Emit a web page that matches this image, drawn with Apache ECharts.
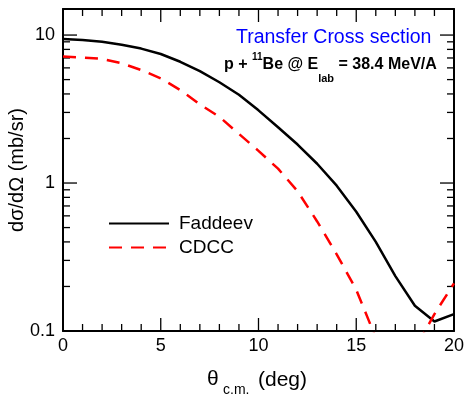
<!DOCTYPE html>
<html><head><meta charset="utf-8">
<script src="https://cdn.jsdelivr.net/npm/echarts@6/dist/echarts.min.js"></script>
<style>html,body{margin:0;padding:0;background:#fff}#c{width:467px;height:394px}</style>
</head><body><div id="c"></div>
<script>
// ---- data ----
const theta = [0,1,2,3,4,5,6,7,8,9,10,11,12,13,14,15,16,17,18,19,20];
const faddeev = [9.4,9.25,9.0,8.6,8.1,7.45,6.6,5.7,4.8,3.95,3.1,2.38,1.82,1.35,0.96,0.64,0.40,0.235,0.148,0.116,0.13];
const cdcc = [7.15,7.05,6.9,6.45,5.8,5.1,4.25,3.4,2.8,2.15,1.65,1.25,0.88,0.55,0.33,0.19,0.09,0.05,0.075,0.13,0.21];
const xMajor = [0,5,10,15,20];
const xMinor = [1,2,3,4,6,7,8,9,11,12,13,14,16,17,18,19];
const yMajor = [0.1,1,10];
const yMinor = [0.2,0.3,0.4,0.5,0.6,0.7,0.8,0.9,2,3,4,5,6,7,8,9];
const seriesNames = ['Faddeev','CDCC'];
const X_MIN = 0, X_MAX = 20, Y_MIN = 0.1, Y_MAX = 15;

const FONT = '"Liberation Sans", Arial, Helvetica, sans-serif';
const chart = echarts.init(document.getElementById('c'));

const ctx = document.createElement('canvas').getContext('2d');
function tw(text, size, weight){ ctx.font = (weight||'normal')+' '+size+'px '+FONT; return ctx.measureText(text).width; }
function runText(parts, x0){
  let x = x0; const out = [];
  parts.forEach(p=>{
    out.push({type:'text', left:x, top:p.y - p.size/2, style:{text:p.text, font:(p.weight||'normal')+' '+p.size+'px '+FONT, fill:p.color||'#000'}});
    x += tw(p.text, p.size, p.weight);
  });
  return out;
}

function xAx(pos, labels){
  return {type:'value', min:X_MIN, max:X_MAX, interval:5, position:pos,
    axisLine:{show:true, onZero:false, lineStyle:{color:'#000', width:2}},
    axisTick:{show:false}, minorTick:{show:false},
    axisLabel:{show:labels, fontSize:18, color:'#000', fontFamily:FONT, margin:6},
    splitLine:{show:false}, minorSplitLine:{show:false}};
}
function yAx(pos, labels){
  return {type:'log', logBase:10, min:Y_MIN, max:Y_MAX, position:pos,
    axisLine:{show:true, onZero:false, lineStyle:{color:'#000', width:2}},
    axisTick:{show:false},
    axisLabel:{show: labels, customValues: yMajor, fontSize:18, color:'#000', fontFamily:FONT, margin:8,
      formatter: v => (Math.abs(v-0.1)<1e-9 ? '0.1' : String(Math.round(v)))},
    splitLine:{show:false}};
}

// tick marks: [x value, y value, kind]; kind 0 x-major, 1 x-minor, 2 y-major, 3 y-minor
const tickData = [].concat(
  xMajor.map(v=>[v, 1, 0]), xMinor.map(v=>[v, 1, 1]),
  yMajor.map(v=>[1, v, 2]), yMinor.map(v=>[1, v, 3])
);
const tickStyle = {stroke:'#000', lineWidth:1.3};
function renderTick(params, api){
  const vx = api.value(0), vy = api.value(1), kind = api.value(2);
  const len = kind === 0 ? 13 : (kind === 2 ? 14 : 7);
  if (kind < 2) {
    const b = api.coord([vx, Y_MIN]), t = api.coord([vx, Y_MAX]);
    return {type:'group', children:[
      {type:'line', shape:{x1:b[0], y1:b[1], x2:b[0], y2:b[1]-len}, style:tickStyle},
      {type:'line', shape:{x1:t[0], y1:t[1], x2:t[0], y2:t[1]+len}, style:tickStyle}
    ]};
  }
  const l = api.coord([X_MIN, vy]), r = api.coord([X_MAX, vy]);
  return {type:'group', children:[
    {type:'line', shape:{x1:l[0], y1:l[1], x2:l[0]+len, y2:l[1]}, style:tickStyle},
    {type:'line', shape:{x1:r[0], y1:r[1], x2:r[0]-len, y2:r[1]}, style:tickStyle}
  ]};
}

const graphics = [];
graphics.push(...runText([
  {text:'p + ', size:16, weight:'bold', y:65},
  {text:'11', size:10, weight:'bold', y:57},
  {text:'Be @ E', size:16, weight:'bold', y:65},
  {text:'lab', size:11, weight:'bold', y:79},
  {text:' = 38.4 MeV/A', size:16, weight:'bold', y:65}
], 224));
graphics.push({type:'text', left:207, top:369, style:{text:'θ', font:'normal 21px '+FONT, fill:'#000'}});
graphics.push({type:'text', left:223, top:383, style:{text:'c.m.', font:'normal 14px '+FONT, fill:'#000'}});
graphics.push({type:'text', left:258, top:370, style:{text:'(deg)', font:'normal 21px '+FONT, fill:'#000'}});
graphics.push({type:'text', x:17, y:170, rotation:Math.PI/2, style:{text:'dσ/dΩ (mb/sr)', font:'normal 20px '+FONT, fill:'#000', align:'center', verticalAlign:'middle'}});

chart.setOption({
  animation:false,
  title:{text:'Transfer Cross section', left:236, top:28, padding:0,
    textStyle:{fontSize:19.5, fontWeight:'normal', color:'#0000ff', fontFamily:FONT}},
  grid:{left:63, top:9, right:12, bottom:63},
  legend:{data:seriesNames, orient:'vertical', left:108, top:214, padding:0, itemWidth:60, itemHeight:14, itemGap:5,
    itemStyle:{opacity:0},
    textStyle:{fontSize:19, color:'#000', fontFamily:FONT, padding:[0,0,0,5]}},
  xAxis:[xAx('bottom', true), xAx('top', false)],
  yAxis:[yAx('left', true), yAx('right', false)],
  graphic: graphics,
  series:[
    {name:seriesNames[0], type:'line', xAxisIndex:0, yAxisIndex:0, showSymbol:false, symbol:'none',
      data: theta.map((t,i)=>[t, faddeev[i]]), lineStyle:{color:'#000', width:2.5, type:'solid'}, itemStyle:{color:'#000'}},
    {name:seriesNames[1], type:'line', xAxisIndex:0, yAxisIndex:0, showSymbol:false, symbol:'none',
      data: theta.map((t,i)=>[t, cdcc[i]]), lineStyle:{color:'#ff0000', width:2.5, type:[13,9]}, itemStyle:{color:'#ff0000'}},
    {name:'ticks', type:'custom', xAxisIndex:0, yAxisIndex:0, silent:true, clip:false,
      encode:{x:0, y:1}, data: tickData, renderItem: renderTick, z:3}
  ]
});
</script></body></html>
